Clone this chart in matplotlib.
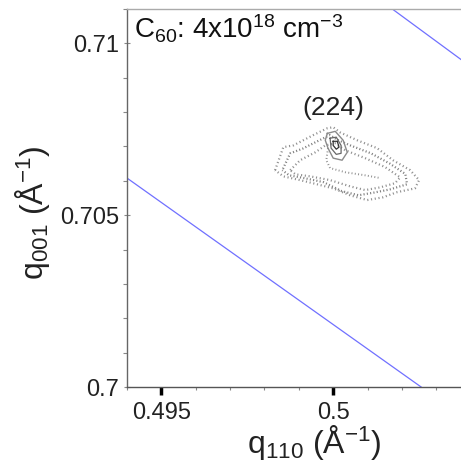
import matplotlib
matplotlib.use("Agg")
import matplotlib.pyplot as plt
from matplotlib.ticker import MultipleLocator

plt.rcParams["font.family"] = ["Liberation Sans", "DejaVu Sans"]
plt.rcParams["mathtext.fontset"] = "custom"
plt.rcParams["mathtext.rm"] = "Liberation Sans"
plt.rcParams["mathtext.it"] = "Liberation Sans"

# constant-|q| lines (end points)
line1_x = [0.4940, 0.50256]
line1_y = [0.70608, 0.7000]
line2_x = [0.50172, 0.50372]
line2_y = [0.7110, 0.70953]

# contours of the (224) reflection, vertices
# outer edge of the noisy outer band
c1_x = [0.49831, 0.49855, 0.49884, 0.49942, 0.49983, 0.50000, 0.50020, 0.50070,
        0.50128, 0.50174, 0.50224, 0.50250, 0.50238, 0.50186, 0.50145, 0.50099,
        0.50049, 0.50000, 0.49953, 0.49904, 0.49855, 0.49831]
c1_y = [0.70631, 0.70698, 0.70703, 0.70733, 0.70753, 0.70756, 0.70741, 0.70718,
        0.70695, 0.70660, 0.70631, 0.70602, 0.70578, 0.70567, 0.70552, 0.70544,
        0.70558, 0.70578, 0.70590, 0.70602, 0.70613, 0.70631]
# middle of the outer band
c1m_x = [0.49852, 0.49875, 0.49912, 0.49960, 0.49990, 0.50015, 0.50050, 0.50110,
         0.50165, 0.50210, 0.50215, 0.50165, 0.50120, 0.50074, 0.50025, 0.49972,
         0.49920, 0.49872, 0.49852]
c1m_y = [0.70631, 0.70680, 0.70694, 0.70718, 0.70733, 0.70718, 0.70703, 0.70680,
         0.70650, 0.70620, 0.70590, 0.70575, 0.70566, 0.70558, 0.70570, 0.70596,
         0.70607, 0.70616, 0.70631]
# inner edge of the outer band
c1b_x = [0.49875, 0.49904, 0.49948, 0.49977, 0.50006, 0.50035, 0.50093, 0.50151,
         0.50195, 0.50180, 0.50137, 0.50093, 0.50049, 0.49991, 0.49933, 0.49890,
         0.49875]
c1b_y = [0.70631, 0.70660, 0.70683, 0.70703, 0.70709, 0.70689, 0.70666, 0.70640,
         0.70610, 0.70593, 0.70581, 0.70573, 0.70584, 0.70602, 0.70613, 0.70619,
         0.70631]
# inner contour running down from the peak
c2_x = [0.49985, 0.49980, 0.49991, 0.50035, 0.50093, 0.50137]
c2_y = [0.70695, 0.70660, 0.70637, 0.70625, 0.70616, 0.70608]
# contours round the peak
c3_x = [0.49983, 0.50006, 0.50029, 0.50041, 0.50026, 0.50000, 0.49985, 0.49977, 0.49983]
c3_y = [0.70738, 0.70744, 0.70718, 0.70683, 0.70660, 0.70666, 0.70695, 0.70718, 0.70738]
c4_x = [0.49991, 0.50009, 0.50023, 0.50023, 0.50009, 0.49994, 0.49991]
c4_y = [0.70724, 0.70727, 0.70703, 0.70680, 0.70677, 0.70695, 0.70724]
c5_x = [0.50000, 0.50012, 0.50017, 0.50009, 0.50000, 0.50000]
c5_y = [0.70715, 0.70715, 0.70698, 0.70692, 0.70703, 0.70715]

x_ticks = [0.495, 0.5]
x_tick_labels = ["0.495", "0.5"]
y_ticks = [0.7, 0.705, 0.71]
y_tick_labels = ["0.7", "0.705", "0.71"]

fig = plt.figure(figsize=(4.61, 4.61), dpi=100)
ax = fig.add_axes([0.2755, 0.1605, 0.7245, 0.82])

ax.plot(line1_x, line1_y, color="#7070ff", lw=0.9)
ax.plot(line2_x, line2_y, color="#7070ff", lw=0.9)

dots = (0, (0.5, 1.2))
ax.plot(c1_x, c1_y, color="#909090", lw=1.6, ls=dots)
ax.plot(c1m_x, c1m_y, color="#808080", lw=1.6, ls=(0.8, (0.5, 1.0)))
ax.plot(c1b_x, c1b_y, color="#909090", lw=1.6, ls=dots)
ax.plot(c2_x, c2_y, color="#909090", lw=1.4, ls=dots)
ax.plot(c3_x, c3_y, color="#8a8a8a", lw=1.0)
ax.plot(c4_x, c4_y, color="#666666", lw=0.9)
ax.plot(c5_x, c5_y, color="#333333", lw=0.9)

ax.text(0.5, 0.70811, "(224)", ha="center", va="center", fontsize=19, color="#222222")
ax.text(0.02, 0.99, r"C$_{60}$: 4x10$^{18}$ cm$^{-3}$", transform=ax.transAxes,
        ha="left", va="top", fontsize=20, color="#111111")

ax.set_xlim(0.494, 0.50372)
ax.set_ylim(0.7, 0.711)
ax.set_xticks(x_ticks)
ax.set_xticklabels(x_tick_labels, fontsize=17, color="#222222")
ax.set_yticks(y_ticks)
ax.set_yticklabels(y_tick_labels, fontsize=17, color="#222222")
ax.xaxis.set_minor_locator(MultipleLocator(0.001))
ax.yaxis.set_minor_locator(MultipleLocator(0.001))
ax.tick_params(axis="x", which="major", direction="out", length=6, width=2.5,
               color="black", pad=5)
ax.tick_params(axis="x", which="minor", direction="out", length=2, width=0.8,
               color="#888888")
ax.tick_params(axis="y", which="major", direction="inout", length=5, width=0.8,
               color="#888888", pad=3)
ax.tick_params(axis="y", which="minor", direction="out", length=3, width=0.8,
               color="#888888")

ax.spines["right"].set_visible(False)
ax.spines["left"].set_color("#666666")
ax.spines["bottom"].set_color("#555555")
ax.spines["top"].set_color("#aaaaaa")
for s in ["left", "bottom", "top"]:
    ax.spines[s].set_linewidth(1.0)

ax.set_xlabel(r"q$_{110}$ ($\mathrm{\AA}^{-1}$)", fontsize=23, color="#222222")
ax.set_ylabel(r"q$_{001}$ ($\mathrm{\AA}^{-1}$)", fontsize=23, color="#222222")
ax.xaxis.set_label_coords(0.56, -0.095)
ax.yaxis.set_label_coords(-0.225, 0.46)

fig.savefig("out.png", dpi=100)
